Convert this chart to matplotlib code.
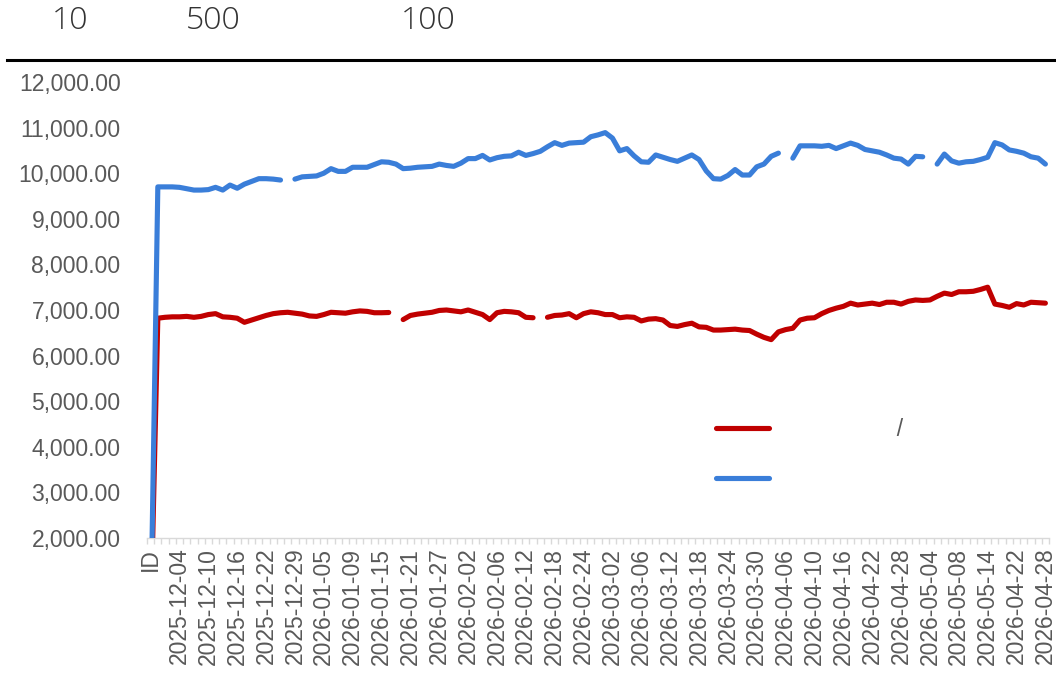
import numpy as np
import matplotlib
matplotlib.use("Agg")
import matplotlib.pyplot as plt
from matplotlib.lines import Line2D

nan = np.nan

tick_labels = ["ID", "2025-12-04", "2025-12-10", "2025-12-16", "2025-12-22", "2025-12-29",
               "2026-01-05", "2026-01-09", "2026-01-15", "2026-01-21", "2026-01-27",
               "2026-02-02", "2026-02-06", "2026-02-12", "2026-02-18", "2026-02-24",
               "2026-03-02", "2026-03-06", "2026-03-12", "2026-03-18", "2026-03-24",
               "2026-03-30", "2026-04-06", "2026-04-10", "2026-04-16", "2026-04-22",
               "2026-04-28", "2026-05-04", "2026-05-08", "2026-05-14", "2026-04-22",
               "2026-04-28"]
label_step = 4

red_values = [
    0, 6820, 6840, 6850, 6850, 6860, 6840, 6860, 6900, 6920,
    6850, 6840, 6820, 6730, 6780, 6830, 6880, 6920, 6940, 6950,
    6930, 6910, 6870, 6860, 6900, 6950, 6940, 6930, 6960, 6980,
    6970, 6940, 6940, 6945, nan, 6790, 6880, 6910, 6930, 6950,
    6990, 7000, 6980, 6960, 7000, 6950, 6900, 6790, 6940, 6970,
    6960, 6940, 6840, 6830, nan, 6840, 6880, 6890, 6920, 6830,
    6920, 6960, 6940, 6900, 6900, 6830, 6850, 6840, 6760, 6800,
    6810, 6780, 6660, 6640, 6680, 6710, 6630, 6620, 6560, 6560,
    6570, 6580, 6560, 6550, 6470, 6400, 6350, 6520, 6570, 6600,
    6780, 6820, 6830, 6920, 6990, 7040, 7080, 7150, 7110, 7130,
    7150, 7120, 7170, 7170, 7130, 7190, 7220, 7210, 7220, 7300,
    7370, 7340, 7400, 7400, 7410, 7450, 7500, 7130, 7100, 7060,
    7140, 7110, 7170, 7160, 7150,
]

blue_values = [
    0, 9700, 9700, 9700, 9690, 9660, 9630, 9630, 9640, 9690,
    9630, 9740, 9670, 9760, 9820, 9880, 9880, 9870, 9850, nan,
    9870, 9920, 9930, 9940, 10000, 10100, 10040, 10040, 10130, 10130,
    10130, 10190, 10250, 10240, 10200, 10100, 10110, 10130, 10140, 10150,
    10200, 10170, 10150, 10220, 10320, 10320, 10390, 10290, 10340, 10370,
    10380, 10460, 10390, 10430, 10480, 10580, 10670, 10610, 10660, 10670,
    10680, 10800, 10840, 10890, 10770, 10490, 10540, 10380, 10250, 10240,
    10400, 10350, 10300, 10260, 10330, 10400, 10300, 10050, 9880, 9870,
    9950, 10080, 9960, 9960, 10140, 10200, 10370, 10440, nan, 10330,
    10600, 10600, 10600, 10590, 10610, 10540, 10600, 10660, 10610, 10520,
    10490, 10460, 10400, 10330, 10310, 10200, 10370, 10360, nan, 10200,
    10420, 10270, 10220, 10250, 10260, 10300, 10350, 10670, 10620, 10510,
    10480, 10440, 10360, 10330, 10200,
]

title_parts = ["10", "500", "100"]
legend_labels = [" " * 18 + "/", " "]

RED = "#C00000"
BLUE = "#3A7ED9"
GRAY = "#595959"

W, H = 1056, 691
fig = plt.figure(figsize=(W / 100, H / 100), dpi=100)
fig.patch.set_facecolor("white")

left, right, top, bottom = 147, 1049, 82, 538
ax = fig.add_axes([left / W, 1 - bottom / H, (right - left) / W, (bottom - top) / H])

n = len(blue_values)
x = np.arange(n)
lw = 3.7
ax.plot(x, red_values, color=RED, lw=lw, solid_capstyle="round", solid_joinstyle="round", zorder=3)
ax.plot(x, blue_values, color=BLUE, lw=lw, solid_capstyle="round", solid_joinstyle="round", zorder=4)

ax.set_xlim(-0.5, n - 0.5)
ax.set_ylim(2000, 12000)

yt = np.arange(2000, 12001, 1000)
ax.set_yticks(yt)
ax.set_yticklabels([f"{v:,.2f}" for v in yt], fontfamily="Liberation Sans", fontsize=16.5, color=GRAY)
ax.tick_params(axis="y", length=0, pad=19)

major = np.arange(0, n, label_step)
ax.set_xticks(major)
ax.set_xticklabels(tick_labels, rotation=90, fontfamily="Liberation Sans", fontsize=16.5, color=GRAY)
ax.set_xticks(np.arange(-0.5, n, 1), minor=True)
ax.tick_params(axis="x", which="major", length=0, pad=7)
ax.tick_params(axis="x", which="minor", length=4, width=1, color="#D9D9D9")

for s in ["left", "right", "top"]:
    ax.spines[s].set_visible(False)
ax.spines["bottom"].set_color("#D9D9D9")
ax.spines["bottom"].set_linewidth(1)

# title row
title_x = [70, 213, 428]
for t, px in zip(title_parts, title_x):
    fig.text(px / W, 1 - 21 / H, t, ha="center", va="center", fontsize=23,
             fontfamily=["Open Sans", "Noto Sans CJK SC", "DejaVu Sans"], fontweight="light",
             color="#333333")
fig.add_artist(Line2D([7 / W, 1.0], [1 - 60 / H, 1 - 60 / H], color="black", lw=2.2))

handles = [Line2D([], [], color=RED, lw=lw, solid_capstyle="round"),
           Line2D([], [], color=BLUE, lw=lw, solid_capstyle="round")]
leg = fig.legend(handles, legend_labels, loc="upper left", bbox_to_anchor=(716 / W, 1 - 418 / H),
                 frameon=False, borderpad=0, borderaxespad=0, handlelength=2.3, handletextpad=0.6,
                 labelspacing=1.2, prop={"family": "Liberation Sans", "size": 16.5})
for t in leg.get_texts():
    t.set_color(GRAY)

fig.savefig("out.png", dpi=100, facecolor="white")
